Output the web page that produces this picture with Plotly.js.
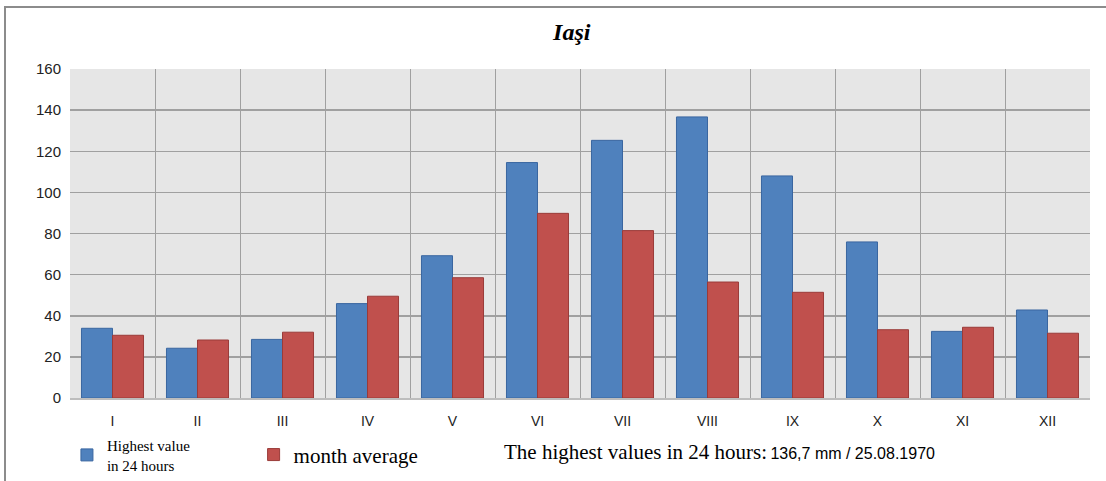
<!DOCTYPE html>
<html>
<head>
<meta charset="utf-8">
<script src="https://cdn.plot.ly/plotly-3.0.1.min.js"></script>
<style>
html,body{margin:0;padding:0;background:#fff;}
#wrap{position:relative;width:1106px;height:481px;}
#chart{width:1106px;height:481px;}
#frame{position:absolute;left:4px;top:6px;width:1102px;height:475px;border-top:2px solid #8c8c8c;border-left:2px solid #8c8c8c;pointer-events:none;box-sizing:border-box;}
</style>
</head>
<body>
<div id="wrap"><div id="chart"></div><div id="frame"></div></div>
<script>
const months = ["I","II","III","IV","V","VI","VII","VIII","IX","X","XI","XII"];
const highest24h = [33.9, 24.2, 28.5, 45.9, 69.2, 114.5, 125.3, 136.7, 108.0, 75.9, 32.4, 42.8];
const monthAverage = [30.5, 28.2, 32.0, 49.5, 58.5, 89.8, 81.4, 56.4, 51.4, 33.2, 34.4, 31.5];
const yTicks = [0, 20, 40, 60, 80, 100, 120, 140, 160];

const traces = [
  {type:"bar", x:months, y:highest24h, name:"Highest value<br>in 24 hours", legend:"legend",
   marker:{color:"#4f81bd", line:{color:"#3a66a0", width:1}}},
  {type:"bar", x:months, y:monthAverage, name:"month average", legend:"legend2",
   marker:{color:"#c0504d", line:{color:"#9a3b39", width:1}}}
];

const layout = {
  width:1106, height:481,
  margin:{l:70, r:16, t:69, b:83, pad:0, autoexpand:false},
  paper_bgcolor:"#ffffff", plot_bgcolor:"#e6e6e6",
  barmode:"group", bargap:0.27, bargroupgap:0,
  title:{text:"<b><i>Iaşi</i></b>", font:{family:"Liberation Serif", size:24, color:"#000"}, x:0.517, xanchor:"center", y:0.935, yanchor:"middle"},
  font:{family:"Liberation Sans", color:"#222"},
  xaxis:{type:"category", tickson:"boundaries", showgrid:true, gridcolor:"#a0a0a0", gridwidth:1,
         ticks:"", showline:true, linecolor:"#bdbdbd", linewidth:2, mirror:false,
         tickfont:{size:14, family:"Liberation Sans", color:"#222"}, ticklabelstandoff:9},
  yaxis:{range:[0,160], tickvals:yTicks, showgrid:true, gridcolor:"#a0a0a0", gridwidth:1.5,
         ticks:"", showline:false, zeroline:false,
         tickfont:{size:15, family:"Liberation Sans", color:"#222"}, ticklabelstandoff:8},
  showlegend:true,
  legend:{orientation:"h", x:-0.003, xanchor:"left", y:-0.173, yanchor:"middle",
          font:{family:"Liberation Serif", size:15, color:"#000"}, itemwidth:30,
          bgcolor:"rgba(0,0,0,0)"},
  legend2:{orientation:"h", x:0.18, xanchor:"left", y:-0.173, yanchor:"middle",
          font:{family:"Liberation Serif", size:21, color:"#000"}, itemwidth:30,
          bgcolor:"rgba(0,0,0,0)"},
  annotations:[{xref:"paper", yref:"paper", x:0.424, y:-0.164, xanchor:"left", yanchor:"middle", showarrow:false,
    text:"<span style='font-family:Liberation Serif;font-size:21px'>The highest values in 24 hours:</span> <span style='font-family:Liberation Sans;font-size:16px'>136,7 mm / 25.08.1970</span>",
    font:{color:"#000"}}]
};
Plotly.newPlot("chart", traces, layout, {displayModeBar:false, staticPlot:true});
</script>
</body>
</html>
